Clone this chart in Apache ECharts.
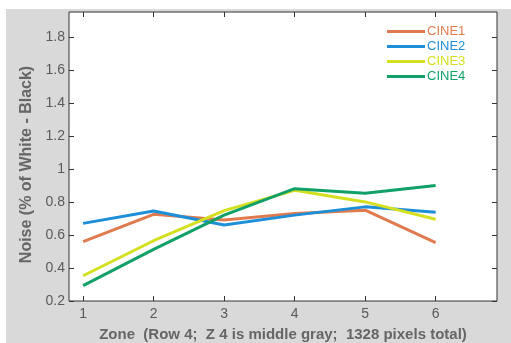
<!DOCTYPE html>
<html>
<head>
<meta charset="utf-8">
<script src="https://cdn.jsdelivr.net/npm/echarts@6/dist/echarts.min.js"></script>
<style>
  html, body { margin: 0; padding: 0; background: #fff; }
  #chart { width: 511px; height: 343px; }
</style>
</head>
<body>
<div id="chart"></div>
<script>
// zones along the x axis
const zones = [1, 2, 3, 4, 5, 6];
const yTicks = [0.2, 0.4, 0.6, 0.8, 1, 1.2, 1.4, 1.6, 1.8];

// noise values
const cine1 = [0.56, 0.725, 0.69, 0.73, 0.75, 0.553];
const cine2 = [0.67, 0.745, 0.66, 0.72, 0.77, 0.737];
const cine3 = [0.353, 0.565, 0.747, 0.87, 0.80, 0.695];
const cine4 = [0.293, 0.513, 0.72, 0.88, 0.853, 0.90];

const seriesNames = ['CINE1', 'CINE2', 'CINE3', 'CINE4'];
const seriesColors = ['#e07b4f', '#1d8fd8', '#d4e01f', '#10a068'];
const seriesValues = [cine1, cine2, cine3, cine4];

const chart = echarts.init(document.getElementById('chart'));

const fontName = 'Liberation Sans, Arial, sans-serif';
const tickFont = {
    fontFamily: fontName,
    fontSize: 14,
    color: '#5a5a5a'
};

//x轴共用配置，上下两条只有下面那条显示文字
function xAxisCfg(pos, showLabel) {
    return {
        type: 'value',
        position: pos,
        min: 0.8,
        max: 6.87,
        axisLine: {show: false},
        axisTick: {show: true, inside: true, length: 5, customValues: zones, lineStyle: {color: '#333'}},
        axisLabel: Object.assign({show: showLabel, margin: 6, customValues: zones}, tickFont),
        splitLine: {show: false}
    };
}
function yAxisCfg(pos, showLabel) {
    return {
        type: 'value',
        position: pos,
        min: 0.2,
        max: 1.95,
        axisLine: {show: false},
        axisTick: {show: true, inside: true, length: 5, customValues: yTicks, lineStyle: {color: '#333'}},
        axisLabel: Object.assign({show: showLabel, margin: 4, customValues: yTicks}, tickFont),
        splitLine: {show: false}
    };
}

const nameFont = {fontFamily: fontName, fontSize: 15, fontWeight: 'bold', color: '#666'};

const xa = xAxisCfg('bottom', true);
xa.name = 'Zone  (Row 4;  Z 4 is middle gray;  1328 pixels total)';
xa.nameLocation = 'middle';
xa.nameGap = 26;
xa.nameTextStyle = nameFont;

const ya = yAxisCfg('left', true);
ya.name = 'Noise (% of White - Black)';
ya.nameLocation = 'middle';
ya.nameGap = 33;
//旋转后的文字整体往下挪一点
ya.nameTextStyle = Object.assign({}, nameFont, {fontSize: 16, padding: [0, 16, 0, 0]});

const option = {
    animation: false,
    backgroundColor: '#fff',
    graphic: [{
        type: 'rect',
        z: -10,
        shape: {x: 6, y: 9, width: 505, height: 334},
        style: {fill: '#d9d9d9'}
    }],
    grid: {
        show: true,
        left: 69,
        top: 12,
        right: 14,
        bottom: 42,
        outerBoundsMode: 'none',
        containLabel: false,
        backgroundColor: '#fff',
        borderColor: '#333',
        borderWidth: 1
    },
    legend: {
        orient: 'vertical',
        left: 387,
        top: 25,
        padding: 0,
        itemWidth: 38,
        itemHeight: 3,
        itemGap: 2,
        icon: 'rect',
        data: seriesNames.map(function(n, i) {
            return {name: n, textStyle: {color: seriesColors[i]}};
        }),
        textStyle: {fontFamily: fontName, fontSize: 13, padding: [0, 0, 0, -3]}
    },
    xAxis: [xa, xAxisCfg('top', false)],
    yAxis: [ya, yAxisCfg('right', false)],
    series: seriesValues.map(function(vals, i) {
        return {
            name: seriesNames[i],
            type: 'line',
            data: zones.map(function(z, k) { return [z, vals[k]]; }),
            symbol: 'none',
            lineStyle: {width: 3, color: seriesColors[i]},
            itemStyle: {color: seriesColors[i]}
        };
    })
};

chart.setOption(option);
</script>
</body>
</html>
